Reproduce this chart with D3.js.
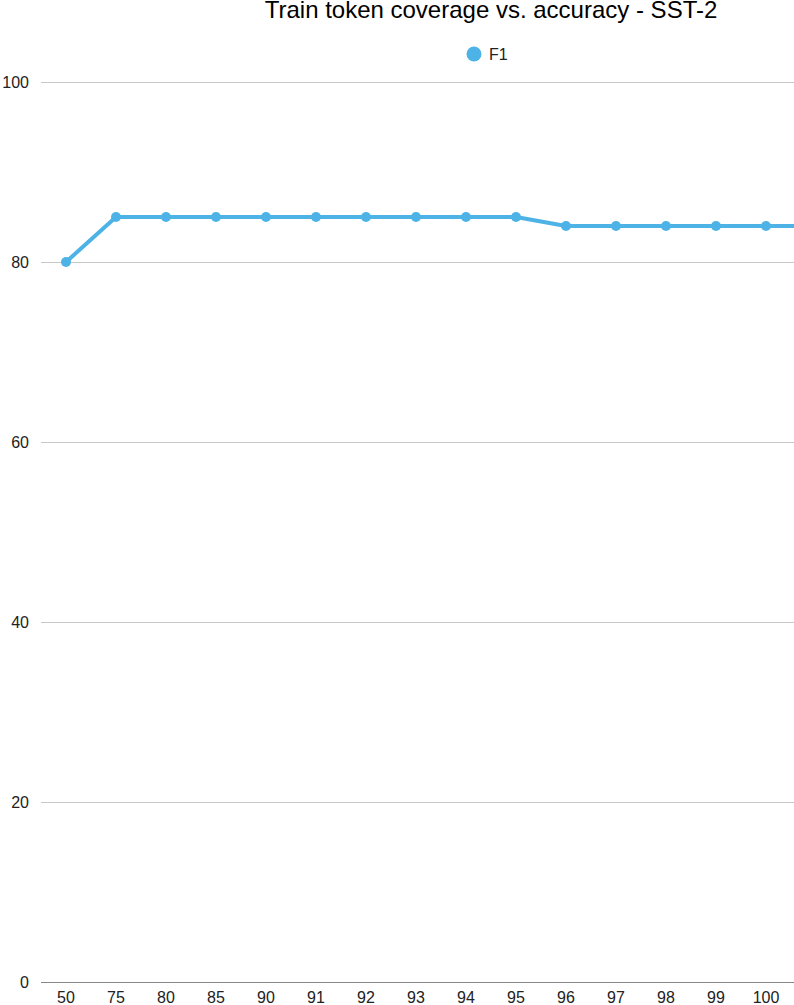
<!DOCTYPE html>
<html><head><meta charset="utf-8">
<script src="https://cdn.jsdelivr.net/npm/d3@7"></script>
<style>body{margin:0;background:#fff}svg{display:block;font-family:"Liberation Sans",Arial,sans-serif}</style>
</head><body>
<svg id="c" width="794" height="1005"></svg>
<script>
const title = "Train token coverage vs. accuracy - SST-2";
const seriesName = "F1";
const categories = ["50","75","80","85","90","91","92","93","94","95","96","97","98","99","100","next"];
const f1Values = [80,85,85,85,85,85,85,85,85,85,84,84,84,84,84,84];
const yTicks = [0,20,40,60,80,100];

(function(){
const svg = d3.select("#c");
const mLeft = 41, mTop = 82, mBottom = 982, bandW = 50, fullW = 900;
const x = d3.scaleBand().domain(categories).range([mLeft, mLeft + bandW*categories.length]);
const y = d3.scaleLinear().domain([0,100]).range([mBottom, mTop]);
const color = "#4db3e6";

// grid
svg.append("g").selectAll("line").data(yTicks.filter(d=>d>0)).join("line")
  .attr("x1", mLeft).attr("x2", 794).attr("y1", d=>y(d)+0.5).attr("y2", d=>y(d)+0.5)
  .attr("stroke", "#c8c8c8").attr("stroke-width", 1);
svg.append("line").attr("x1", mLeft).attr("x2", 794).attr("y1", mBottom+0.5).attr("y2", mBottom+0.5)
  .attr("stroke", "#888").attr("stroke-width", 1);

// y labels
svg.append("g").selectAll("text").data(yTicks).join("text")
  .attr("x", 29).attr("y", d=>y(d)).attr("dy","0.35em").attr("text-anchor","end")
  .attr("font-size", 16).attr("fill","#222").text(d=>d);

// x labels (only those inside the visible area)
svg.append("g").selectAll("text").data(categories.filter(c => x(c)+x.bandwidth()/2 + 15 < 794)).join("text")
  .attr("x", d=>x(d)+x.bandwidth()/2).attr("y", 997).attr("dy","0.35em").attr("text-anchor","middle")
  .attr("font-size", 16).attr("fill","#222").text(d=>d);

// line
const data = categories.map((c,i)=>({c, v:f1Values[i]}));
svg.append("path").datum(data)
  .attr("d", d3.line().x(d=>x(d.c)+x.bandwidth()/2).y(d=>y(d.v)))
  .attr("fill","none").attr("stroke", color).attr("stroke-width", 4).attr("stroke-linejoin","round");
svg.append("g").selectAll("circle").data(data).join("circle")
  .attr("cx", d=>x(d.c)+x.bandwidth()/2).attr("cy", d=>y(d.v)).attr("r", 5).attr("fill", color);

// title
const cx = mLeft + fullW/2;
svg.append("text").attr("x", cx).attr("y", 18).attr("text-anchor","middle")
  .attr("font-size", 24).attr("fill","#000").text(title);

// legend
svg.append("circle").attr("cx", 474).attr("cy", 54).attr("r", 7.5).attr("fill", color);
svg.append("text").attr("x", 489).attr("y", 54).attr("dy","0.35em").attr("font-size", 16).attr("fill","#222").text(seriesName);
})();
</script>
</body></html>
